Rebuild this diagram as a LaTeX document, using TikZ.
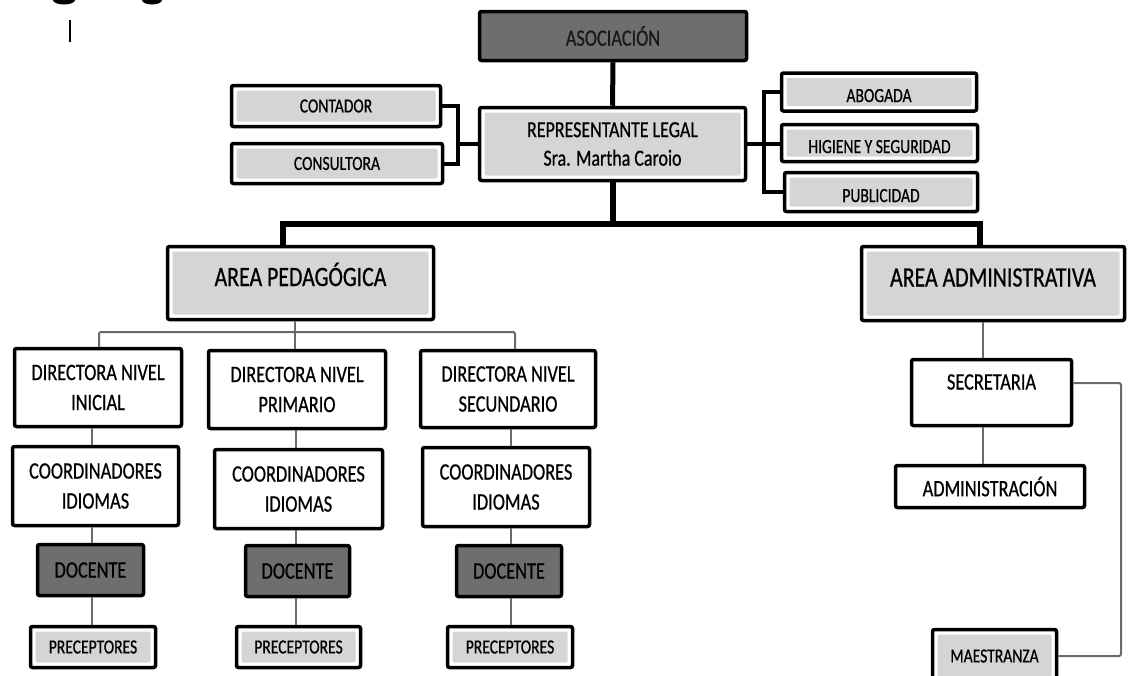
\documentclass[tikz,border=0pt]{standalone}
\usepackage{fontspec}
\setmainfont{Carlito}[FakeStretch=0.78, FakeBold=0.6]
\definecolor{boxgray}{HTML}{D5D5D5}
\definecolor{darkfill}{HTML}{6E6E6E}
\definecolor{conngray}{HTML}{6A6A6A}
\newcommand\fsml{\fontsize{20}{25}\selectfont}
\newcommand\fmed{\fontsize{23.5}{30}\selectfont}
\newcommand\flrg{\fontsize{28}{32}\selectfont}
\tikzset{
  box/.style={draw=black, line width=3.5pt, rounded corners=2pt, inner sep=0pt,
              align=center, fill=white, text=black},
  gbox/.style={box, path picture={\fill[boxgray]
      ([shift={(5pt,-5pt)}]path picture bounding box.north west) rectangle
      ([shift={(-5pt,5pt)}]path picture bounding box.south east);}},
  dbox/.style={box, fill=darkfill},
  smalltxt/.style={font=\fsml},
  medtxt/.style={font=\fmed},
  largetxt/.style={font=\flrg},
  lowtxt/.style={text height=20pt, text depth=0pt},
  bigconn/.style={draw=black, line width=6pt},
  midconn/.style={draw=black, line width=5pt},
  brconn/.style={draw=black, line width=4pt},
  thinconn/.style={draw=conngray, line width=2pt, rounded corners=2pt},
}
\begin{document}
\begin{tikzpicture}[x=1pt,y=-1pt]
\clip (0,0) rectangle (1129,675);
\fill[white] (0,0) rectangle (1129,675);

% cut-off fragments at the top left
\fill[black] (64,0) ellipse [x radius=11pt, y radius=4.5pt];
\fill[black] (152,0) ellipse [x radius=10pt, y radius=4.5pt];
\draw[black, line width=2.5pt] (70,20) -- (70,42);

% top level
\node[dbox, medtxt, text=black!90, minimum width=267pt, minimum height=49pt] (asoc) at (613,36) {ASOCIACIÓN};
\node[gbox, font={\fontsize{23}{28.5}\selectfont}, minimum width=266pt, minimum height=73pt] (rep) at (612.5,144)
  {REPRESENTANTE LEGAL\\Sra. Martha Caroio};
\node[gbox, smalltxt, minimum width=209pt, minimum height=41pt] (contador) at (336,106) {CONTADOR};
\node[gbox, smalltxt, minimum width=211pt, minimum height=40pt] (consultora) at (337,163.5) {CONSULTORA};
\node[gbox, smalltxt, lowtxt, minimum width=195pt, minimum height=38pt] (abogada) at (879,92) {ABOGADA};
\node[gbox, smalltxt, lowtxt, minimum width=196pt, minimum height=37pt] (higiene) at (879.5,143) {HIGIENE Y SEGURIDAD};
\node[gbox, smalltxt, lowtxt, minimum width=193pt, minimum height=39pt] (publicidad) at (881,192) {PUBLICIDAD};

% areas
\node[gbox, largetxt, text height=20pt, text depth=14pt, minimum width=266pt, minimum height=73pt] (areaped) at (300.5,283) {AREA PEDAGÓGICA};
\node[gbox, largetxt, text height=20pt, text depth=14pt, minimum width=263pt, minimum height=74pt] (areaadm) at (993,283.5) {AREA ADMINISTRATIVA};

% pedagogical branch
\node[box, medtxt, minimum width=167pt, minimum height=78pt] (dir1) at (98,387.5) {DIRECTORA NIVEL\\INICIAL};
\node[box, medtxt, minimum width=177pt, minimum height=78pt] (dir2) at (297,389.5) {DIRECTORA NIVEL\\PRIMARIO};
\node[box, medtxt, minimum width=175pt, minimum height=77pt] (dir3) at (508,389) {DIRECTORA NIVEL\\SECUNDARIO};

\node[box, medtxt, minimum width=166pt, minimum height=79pt] (coord1) at (95.5,486) {COORDINADORES\\IDIOMAS};
\node[box, medtxt, minimum width=168pt, minimum height=79pt] (coord2) at (298.5,489) {COORDINADORES\\IDIOMAS};
\node[box, medtxt, minimum width=167pt, minimum height=79pt] (coord3) at (506,487) {COORDINADORES\\IDIOMAS};

\node[dbox, medtxt, minimum width=106pt, minimum height=51pt] (doc1) at (90.5,570) {DOCENTE};
\node[dbox, medtxt, minimum width=104pt, minimum height=51pt] (doc2) at (297.5,571) {DOCENTE};
\node[dbox, medtxt, minimum width=105pt, minimum height=51pt] (doc3) at (509,571) {DOCENTE};

\node[gbox, smalltxt, minimum width=125pt, minimum height=41pt] (pre1) at (93,647) {PRECEPTORES};
\node[gbox, smalltxt, minimum width=124pt, minimum height=41pt] (pre2) at (298.5,647) {PRECEPTORES};
\node[gbox, smalltxt, minimum width=125pt, minimum height=41pt] (pre3) at (510,647) {PRECEPTORES};

% administrative branch
\node[box, medtxt, text height=16pt, text depth=22pt, minimum width=160pt, minimum height=66pt] (sec) at (991.5,392.5) {SECRETARIA};
\node[box, medtxt, minimum width=189pt, minimum height=42pt] (adm) at (990,486.5) {ADMINISTRACIÓN};
\node[gbox, smalltxt, minimum width=124pt, minimum height=53pt] (maes) at (994.5,656) {MAESTRANZA};

% helper coordinates
\coordinate (lb) at (458,144);
\coordinate (rb) at (764,144);
\coordinate (bl) at (283,224);
\coordinate (br) at (980,224);
\coordinate (pl) at (99,332);
\coordinate (pm) at (295,332);
\coordinate (pr) at (515,332);
\coordinate (xa) at (983,0);
\coordinate (mr) at (1121,383);
\coordinate (x1) at (92,0);
\coordinate (x2) at (296,0);
\coordinate (x3) at (511,0);

% thick black connectors
\draw[midconn] (asoc.south) -- (rep.north);
\draw[brconn] (contador.east) -- (contador.east -| lb) -- (consultora.east -| lb) -- (consultora.east);
\draw[brconn] (rep.west) -- (rep.west -| lb);
\draw[brconn] (abogada.west) -- (abogada.west -| rb) -- (publicidad.west -| rb) -- (publicidad.west);
\draw[brconn] (rep.east) -- (rep.east -| higiene.west);
\draw[bigconn] (rep.south) -- (rep.south |- bl);
\draw[bigconn] (bl |- areaped.north) -- (bl) -- (br) -- (br |- areaadm.north);

% thin grey connectors
\draw[thinconn] (pm |- areaped.south) -- (pm);
\draw[thinconn] (pl |- dir1.north) -- (pl) -- (pr) -- (pr |- dir3.north);
\draw[thinconn] (pm) -- (pm |- dir2.north);
\draw[thinconn] (coord1.north -| x1) -- (dir1.south -| x1);
\draw[thinconn] (coord2.north -| x2) -- (dir2.south -| x2);
\draw[thinconn] (coord3.north -| x3) -- (dir3.south -| x3);
\draw[thinconn] (doc1.north -| x1) -- (coord1.south -| x1);
\draw[thinconn] (doc2.north -| x2) -- (coord2.south -| x2);
\draw[thinconn] (doc3.north -| x3) -- (coord3.south -| x3);
\draw[thinconn] (pre1.north -| x1) -- (doc1.south -| x1);
\draw[thinconn] (pre2.north -| x2) -- (doc2.south -| x2);
\draw[thinconn] (pre3.north -| x3) -- (doc3.south -| x3);
\draw[thinconn] (sec.north -| xa) -- (areaadm.south -| xa);
\draw[thinconn] (adm.north -| xa) -- (sec.south -| xa);
\draw[thinconn] (sec.east |- mr) -- (mr) |- (maes.east);
\end{tikzpicture}
\end{document}
